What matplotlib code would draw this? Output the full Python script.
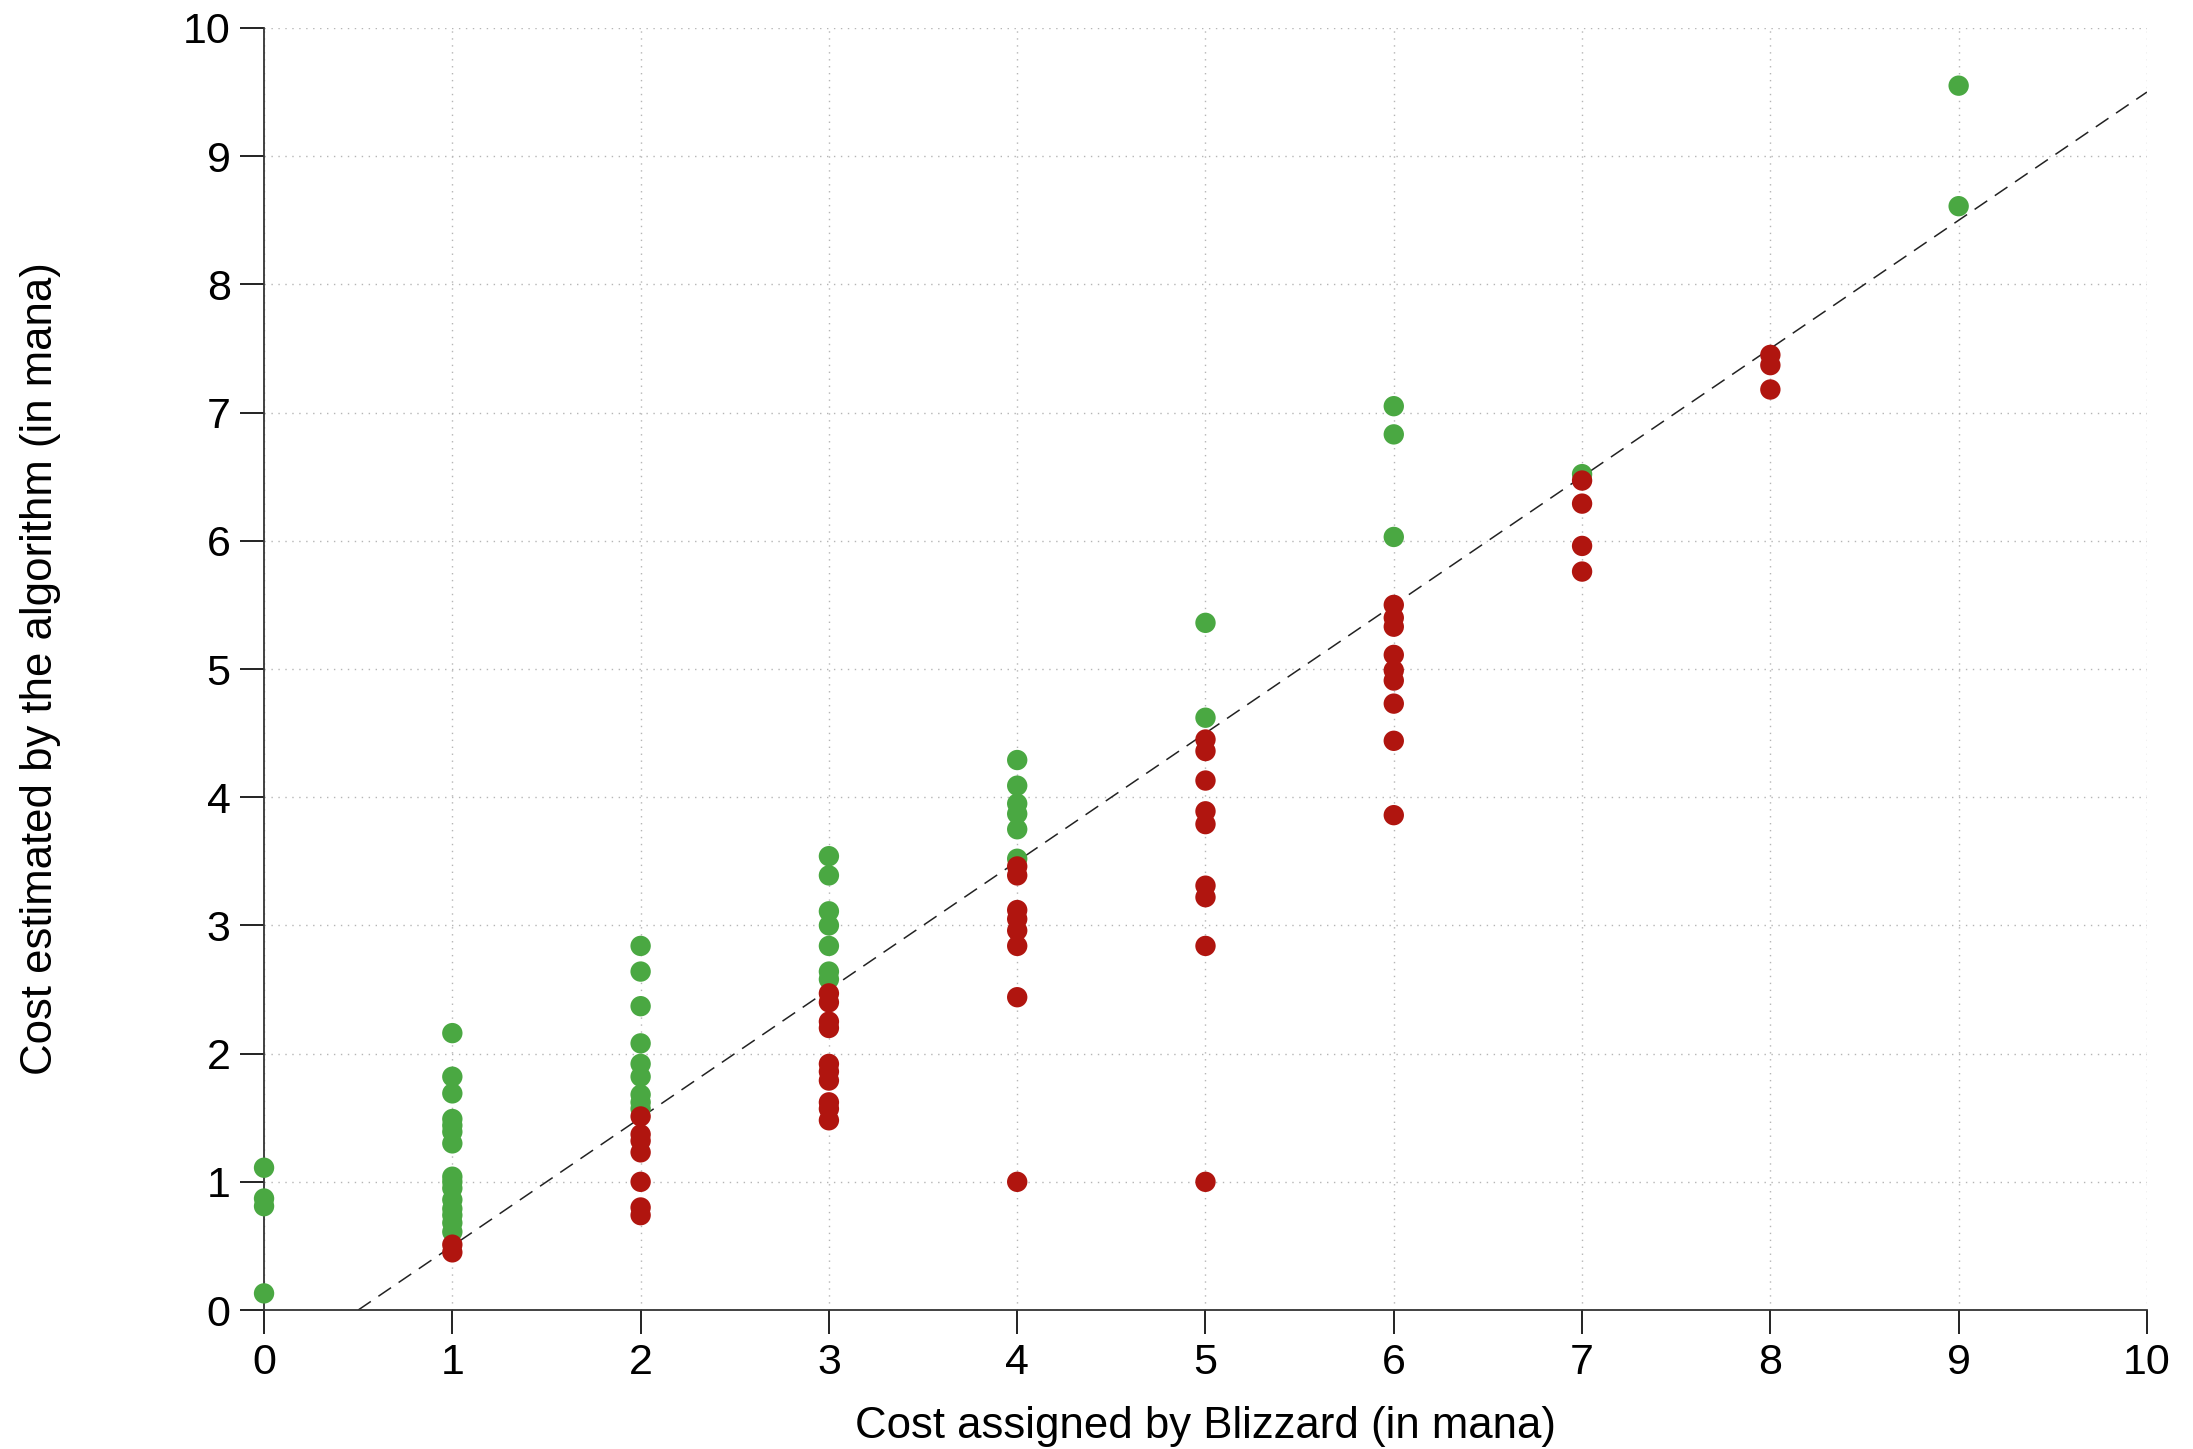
import matplotlib
matplotlib.use("Agg")
import matplotlib.pyplot as plt

# values: blizzard cost -> estimated cost
green_x = [0, 0, 0, 0,
           1, 1, 1, 1, 1, 1, 1, 1, 1, 1, 1, 1, 1, 1, 1,
           2, 2, 2, 2, 2, 2, 2, 2, 2,
           3, 3, 3, 3, 3, 3, 3,
           4, 4, 4, 4, 4, 4,
           5, 5,
           6, 6, 6,
           7,
           9, 9]
green_y = [1.11, 0.87, 0.81, 0.13,
           2.16, 1.82, 1.69, 1.49, 1.44, 1.39, 1.30, 1.04, 1.00, 0.95, 0.86, 0.79, 0.74, 0.68, 0.61,
           2.84, 2.64, 2.37, 2.08, 1.92, 1.82, 1.68, 1.62, 1.57,
           3.54, 3.39, 3.11, 3.00, 2.84, 2.64, 2.58,
           4.29, 4.09, 3.95, 3.87, 3.75, 3.52,
           5.36, 4.62,
           7.05, 6.83, 6.03,
           6.52,
           9.55, 8.61]

red_x = [1, 1,
         2, 2, 2, 2, 2, 2, 2,
         3, 3, 3, 3, 3, 3, 3, 3, 3, 3,
         4, 4, 4, 4, 4, 4, 4, 4,
         5, 5, 5, 5, 5, 5, 5, 5, 5,
         6, 6, 6, 6, 6, 6, 6, 6, 6,
         7, 7, 7, 7,
         8, 8, 8]
red_y = [0.51, 0.45,
         1.51, 1.37, 1.32, 1.23, 1.00, 0.80, 0.74,
         2.47, 2.40, 2.25, 2.20, 1.92, 1.86, 1.79, 1.62, 1.57, 1.48,
         3.46, 3.39, 3.12, 3.05, 2.96, 2.84, 2.44, 1.00,
         4.45, 4.36, 4.13, 3.89, 3.79, 3.31, 3.22, 2.84, 1.00,
         5.50, 5.40, 5.33, 5.11, 4.99, 4.91, 4.73, 4.44, 3.86,
         6.47, 6.29, 5.96, 5.76,
         7.45, 7.37, 7.18]

ref_x = [0.5, 10]
ref_y = [0.0, 9.5]
ticks = list(range(11))

plt.rcParams["font.family"] = ["Liberation Sans", "DejaVu Sans"]

fig = plt.figure(figsize=(21.93, 14.49), dpi=100)
ax = fig.add_axes([0.1204, 0.0959, 0.8586, 0.8848])

ax.plot(ref_x, ref_y, color="#222222", lw=1.1, dashes=(10, 6), zorder=2)
ax.scatter(green_x, green_y, s=215, color="#4aa842", edgecolors="none",
           zorder=3, clip_on=False)
ax.scatter(red_x, red_y, s=215, color="#b0150f", edgecolors="none",
           zorder=4, clip_on=False)

ax.set_xlim(0, 10)
ax.set_ylim(0, 10)
ax.set_xticks(ticks)
ax.set_yticks(ticks)
ax.grid(True, color="#b5b5b5", linestyle=(0, (1, 4)), lw=1.0)
ax.set_axisbelow(True)
for s in ("top", "right"):
    ax.spines[s].set_visible(False)
for s in ("left", "bottom"):
    ax.spines[s].set_color("#333333")
    ax.spines[s].set_linewidth(1.3)
ax.tick_params(direction="out", length=17, width=1.3, color="#111111",
               labelsize=31, pad=7)

ax.set_xlabel("Cost assigned by Blizzard (in mana)", fontsize=31.5, labelpad=16)
ax.set_ylabel("Cost estimated by the algorithm (in mana)", fontsize=31.5,
              labelpad=88)

fig.savefig("out.png", dpi=100)
